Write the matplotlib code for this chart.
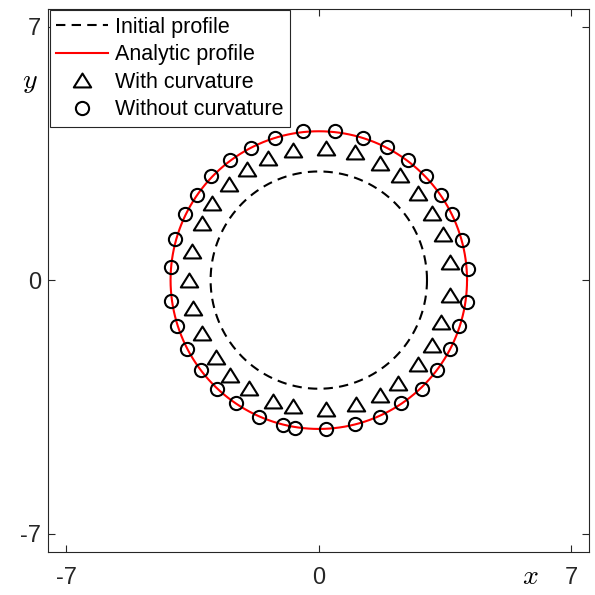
import numpy as np
import matplotlib
matplotlib.use("Agg")
import matplotlib.pyplot as plt
from matplotlib.path import Path

plt.rcParams['font.family'] = ['Liberation Sans', 'DejaVu Sans']
plt.rcParams['mathtext.fontset'] = 'cm'
plt.rcParams['axes.unicode_minus'] = False

# ---- data ----
initial_radius = 3.0
analytic_radius = 4.11

with_curv_x = [-0.71, -1.41, -1.99, -2.49, -2.95, -3.25, -3.51, -3.59,
               0.21, 1.00, 1.69, 2.25, 2.76, 3.13, 3.43, 3.63,
               -3.49, -3.25, -2.84, -2.45, -1.93, -1.27, -0.71,
               3.63, 3.40, 3.13, 2.76, 2.20, 1.69, 1.02, 0.21]
with_curv_y = [3.59, 3.38, 3.07, 2.64, 2.12, 1.59, 0.80, 0.00,
               3.64, 3.53, 3.22, 2.90, 2.41, 1.86, 1.27, 0.51,
               -0.78, -1.47, -2.12, -2.61, -2.99, -3.34, -3.47,
               -0.41, -1.15, -1.80, -2.33, -2.83, -3.16, -3.43, -3.55]

without_curv_x = [-0.44, -1.22, -1.87, -2.47, -2.98, -3.38, -3.72, -4.00, -4.09,
                  0.46, 1.23, 1.88, 2.48, 2.97, 3.39, 3.70, 3.96, 4.13,
                  -4.09, -3.93, -3.65, -3.28, -2.82, -2.30, -1.66, -0.99, -0.67,
                  4.10, 3.88, 3.63, 3.29, 2.85, 2.27, 1.69, 1.00, 0.21]
without_curv_y = [4.12, 3.93, 3.66, 3.32, 2.87, 2.35, 1.82, 1.13, 0.37,
                  4.12, 3.93, 3.67, 3.32, 2.87, 2.35, 1.82, 1.11, 0.32,
                  -0.58, -1.26, -1.91, -2.49, -3.01, -3.39, -3.78, -4.01, -4.08,
                  -0.60, -1.26, -1.89, -2.49, -3.00, -3.39, -3.78, -3.96, -4.10]

tick_values = [-7, 0, 7]
tick_labels = ['-7', '0', '7']
legend_labels = ['Initial profile', 'Analytic profile', 'With curvature', 'Without curvature']

# ---- figure ----
W = H = 595
fig = plt.figure(figsize=(5.95, 5.95), dpi=100)
ax = fig.add_axes([48.3 / W, (H - 551.7) / H, 541 / W, 543.2 / H])

theta = np.linspace(0, 2 * np.pi, 721)
l1, = ax.plot(initial_radius * np.cos(theta), initial_radius * np.sin(theta),
              color='black', lw=1.5, dashes=(4.5, 3.0))
l2, = ax.plot(analytic_radius * np.cos(theta), analytic_radius * np.sin(theta),
              color='red', lw=1.5)

tri = Path([(-1, -0.80), (1, -0.80), (0, 0.80), (-1, -0.80)],
           [Path.MOVETO, Path.LINETO, Path.LINETO, Path.CLOSEPOLY])
l3, = ax.plot(with_curv_x, with_curv_y, ls='none', marker=tri, ms=12.5,
              mfc='none', mec='black', mew=1.5)
l4, = ax.plot(without_curv_x, without_curv_y, ls='none', marker='o', ms=9.5,
              mfc='none', mec='black', mew=1.5)

ax.set_xlim(-7.5, 7.5)
ax.set_ylim(-7.5, 7.5)
ax.set_xticks(tick_values)
ax.set_xticklabels(tick_labels)
ax.set_yticks(tick_values)
ax.set_yticklabels(tick_labels)
ax.tick_params(direction='in', length=5, width=0.8, color='#262626',
               labelsize=17, labelcolor='#262626',
               top=True, right=True)
ax.tick_params(axis='x', pad=11)
ax.tick_params(axis='y', pad=5)
for s in ax.spines.values():
    s.set_color('#262626')
    s.set_linewidth(0.8)

fig.text(530 / W, 1 - 577 / H, '$x$', fontsize=20, ha='center', va='center')
fig.text(30 / W, 1 - 82 / H, '$y$', fontsize=20, ha='center', va='center')

leg = ax.legend([l1, l2, l3, l4], legend_labels, loc='upper left',
                fontsize=15.5, handlelength=2.4, handletextpad=0.3,
                labelspacing=0.3, borderpad=0.3, borderaxespad=0.08,
                fancybox=False, framealpha=1, edgecolor='#262626', numpoints=1)
leg.get_frame().set_linewidth(0.8)

fig.savefig('out.png', dpi=100)
